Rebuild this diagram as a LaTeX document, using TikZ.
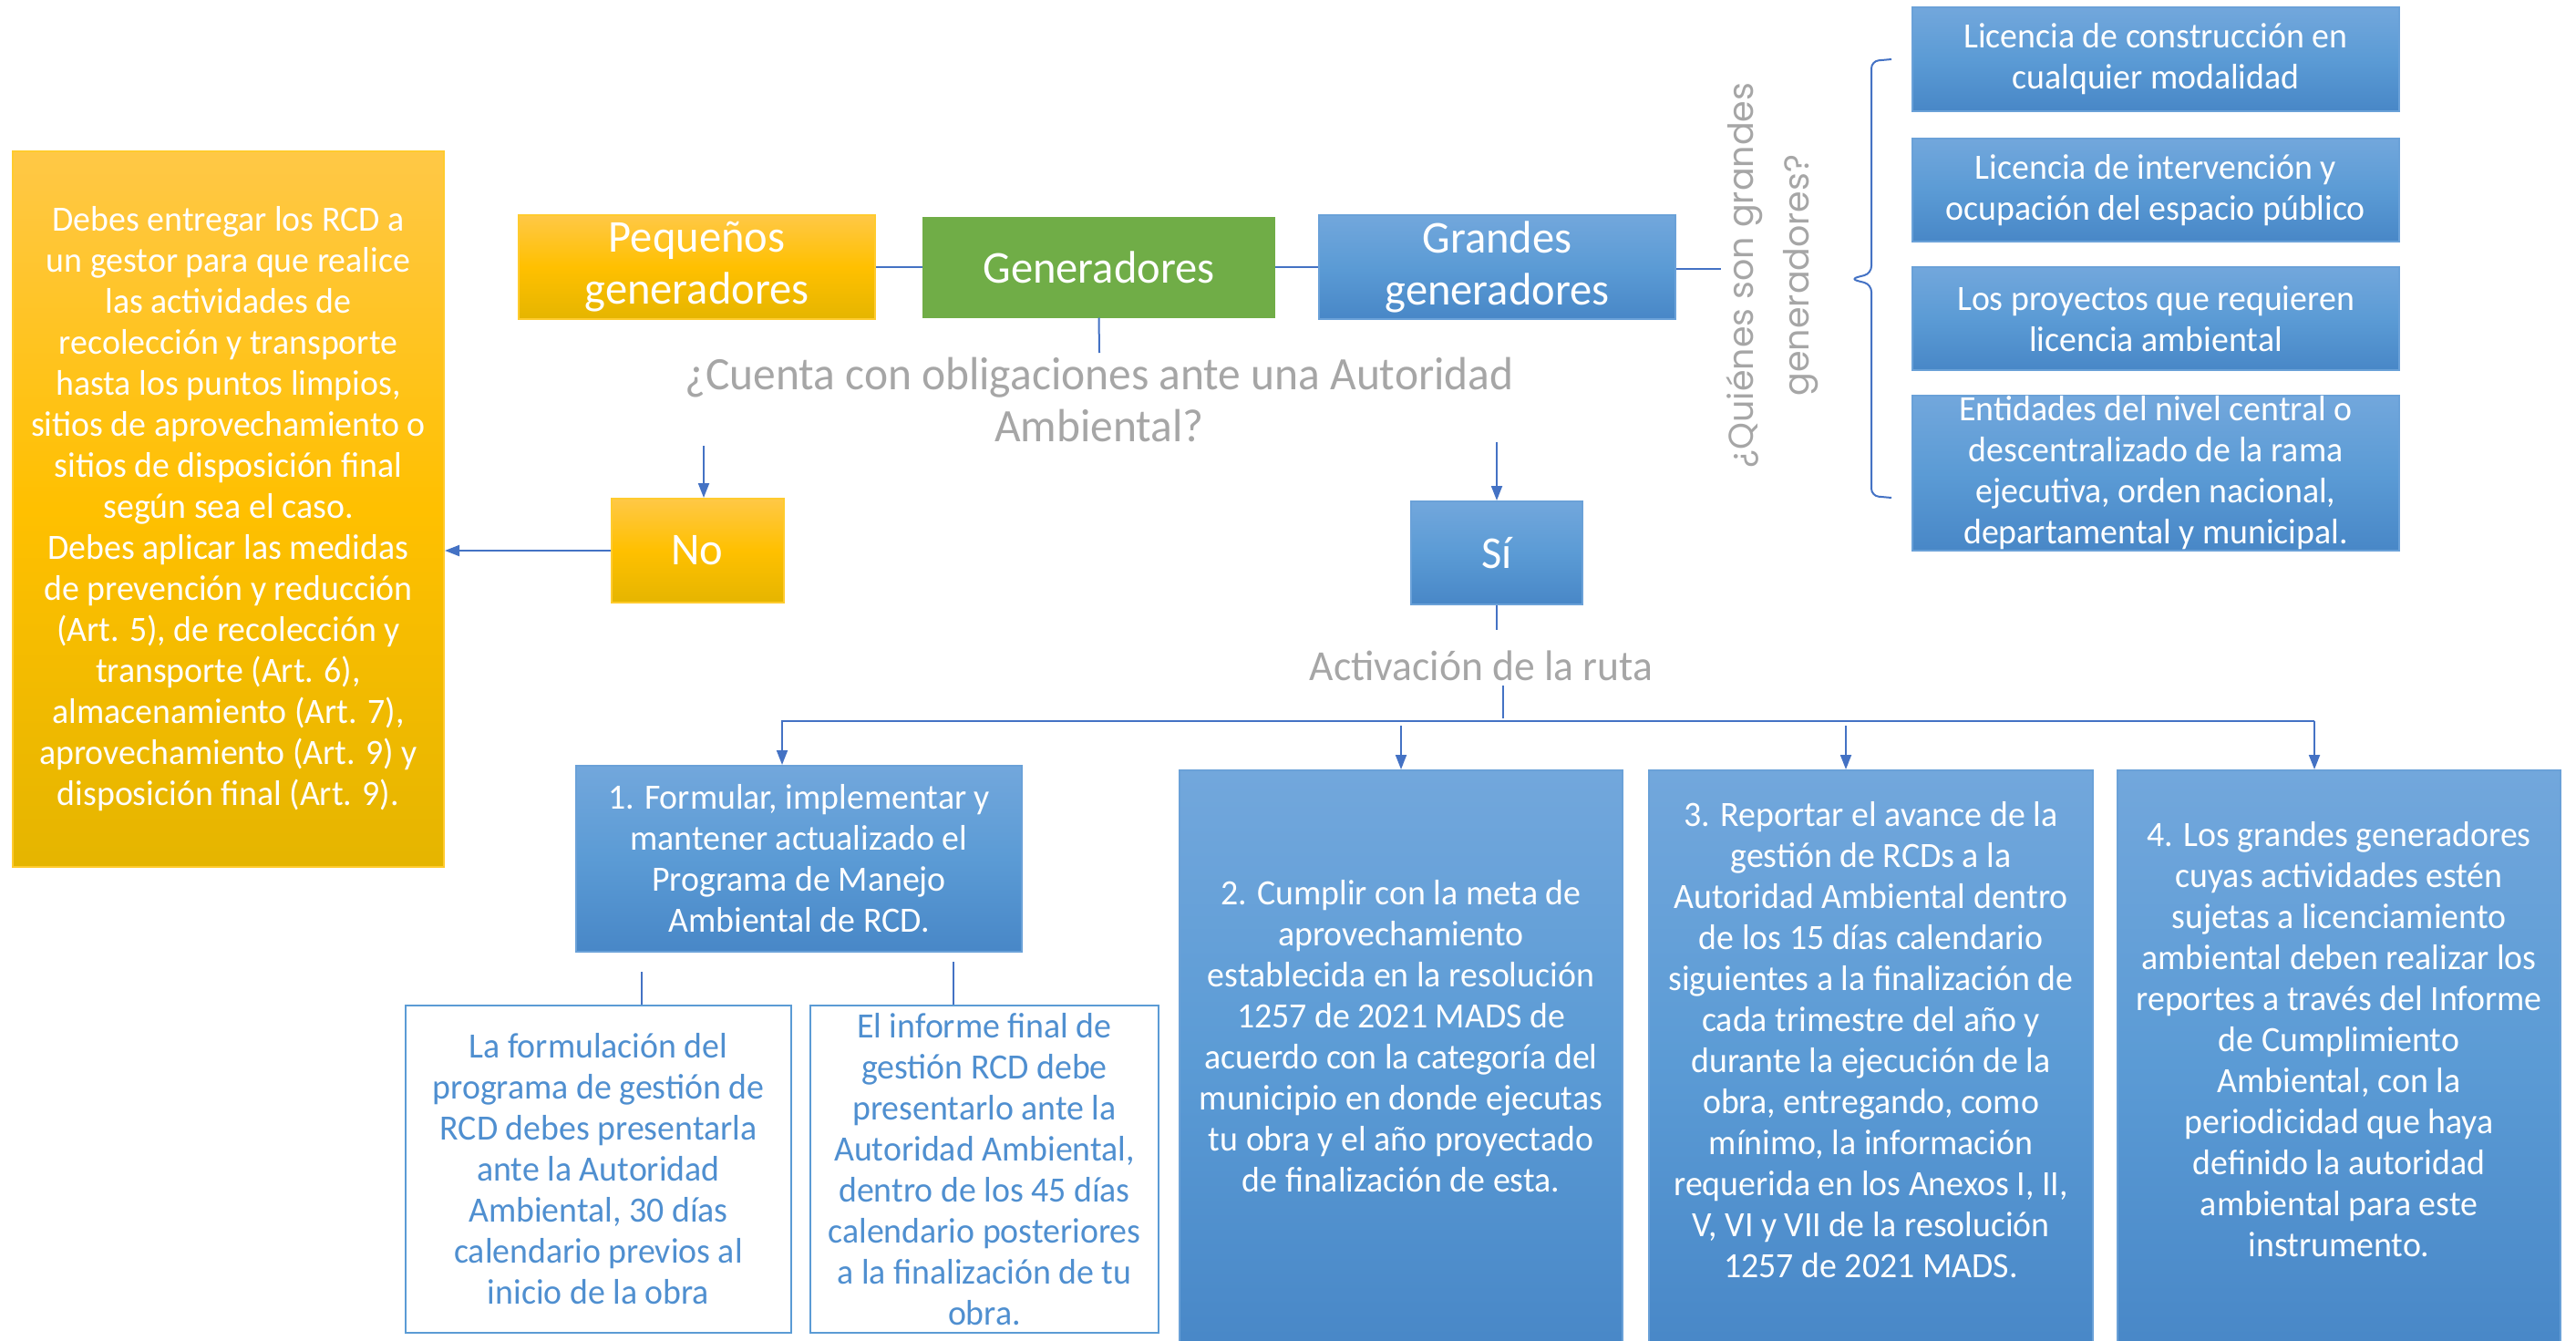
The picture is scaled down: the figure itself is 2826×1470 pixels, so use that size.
\documentclass[tikz,border=0pt]{standalone}
\usepackage{fontspec}
\setmainfont{Carlito}[FakeStretch=0.97]
\newfontfamily\gothic{Poppins}
\usetikzlibrary{arrows.meta,calc}
\definecolor{conn}{HTML}{4472C4}
\definecolor{ytop}{HTML}{FFC846}
\definecolor{ymid}{HTML}{FFC000}
\definecolor{ybot}{HTML}{E5B500}
\definecolor{yborder}{HTML}{FFCB2E}
\definecolor{btop}{HTML}{72A7DC}
\definecolor{bmid}{HTML}{5B9BD5}
\definecolor{bbot}{HTML}{4887C7}
\definecolor{bborder}{HTML}{6AA1D8}
\definecolor{ggreen}{HTML}{70AD47}
\definecolor{qgray}{HTML}{A6A6A6}
\definecolor{subtext}{HTML}{4F8FD0}
\tikzset{
  ybox/.style={rectangle, draw=yborder, line width=2pt, top color=ytop, bottom color=ybot, middle color=ymid, inner sep=0pt, text=white, align=center},
  bbox/.style={rectangle, draw=bborder, line width=2pt, top color=btop, bottom color=bbot, middle color=bmid, inner sep=0pt, text=white, align=center},
  gbox/.style={rectangle, fill=ggreen, draw=ggreen, line width=2pt, inner sep=0pt, text=white, align=center},
  wbox/.style={rectangle, draw=bmid, line width=2pt, fill=white, inner sep=0pt, text=subtext, align=center},
  bigtxt/.style={font=\fontsize{50}{57}\selectfont},
  smalltxt/.style={font=\fontsize{39}{45}\selectfont},
  qtxt/.style={text=qgray, align=center, font=\fontsize{51}{57}\selectfont, inner sep=0pt},
  wtxt/.style={text=white, align=center, inner sep=0pt, font=\fontsize{39}{45}\selectfont},
  conline/.style={draw=conn, line width=2pt},
  conarrow/.style={draw=conn, line width=2pt, -{Triangle[length=16pt,width=12pt]}},
}
\begin{document}
\begin{tikzpicture}[x=1pt,y=-1pt]
\useasboundingbox (0,0) rectangle (2826,1470);

% top row
\node[ybox, bigtxt, minimum width=391, minimum height=114] (peq) at (764.5,293) {Pequeños\\generadores};
\node[gbox, bigtxt, minimum width=385, minimum height=109] (gen) at (1205.5,293) {Generadores};
\node[bbox, bigtxt, minimum width=391, minimum height=114] (gra) at (1642.5,293) {Grandes\\generadores};

\node[qtxt] (q) at (1206,438) {¿Cuenta con obligaciones ante una Autoridad\\Ambiental?};

% left info box
\node[ybox, smalltxt, minimum width=473, minimum height=785] (left) at (250.5,558.5) {Debes entregar los RCD a\\un gestor para que realice\\las actividades de\\recolección y transporte\\hasta los puntos limpios,\\sitios de aprovechamiento o\\sitios de disposición final\\según sea el caso.\\Debes aplicar las medidas\\de prevención y reducción\\(Art. 5), de recolección y\\transporte (Art. 6),\\almacenamiento (Art. 7),\\aprovechamiento (Art. 9) y\\disposición final (Art. 9).};

% No / Si
\node[ybox, bigtxt, minimum width=189, minimum height=114] (no) at (765,604) {No};
\node[bbox, bigtxt, minimum width=188, minimum height=113] (si) at (1642,606.5) {Sí};

\node[qtxt, font=\fontsize{47}{55}\selectfont] (act) at (1625,730) {Activación de la ruta};

% route boxes
\node[bbox, minimum width=489, minimum height=204, smalltxt] (b1) at (876.5,942) {1. Formular, implementar y\\mantener actualizado el\\Programa de Manejo\\Ambiental de RCD.};
\node[bbox, minimum width=486, minimum height=640] (b2) at (1537,1165) {};
\node[bbox, minimum width=487, minimum height=640] (b3) at (2052.5,1165) {};
\node[bbox, minimum width=486, minimum height=640] (b4) at (2566,1165) {};

\node[wtxt] (t2) at (1537,1137) {2. Cumplir con la meta de\\aprovechamiento\\establecida en la resolución\\1257 de 2021 MADS de\\acuerdo con la categoría del\\municipio en donde ejecutas\\tu obra y el año proyectado\\de finalización de esta.};
\node[wtxt] (t3) at (2052.5,1141) {3. Reportar el avance de la\\gestión de RCDs a la\\Autoridad Ambiental dentro\\de los 15 días calendario\\siguientes a la finalización de\\cada trimestre del año y\\durante la ejecución de la\\obra, entregando, como\\mínimo, la información\\requerida en los Anexos I, II,\\V, VI y VII de la resolución\\1257 de 2021 MADS.};
\node[wtxt] (t4) at (2566,1140) {4. Los grandes generadores\\cuyas actividades estén\\sujetas a licenciamiento\\ambiental deben realizar los\\reportes a través del Informe\\de Cumplimiento\\Ambiental, con la\\periodicidad que haya\\definido la autoridad\\ambiental para este\\instrumento.};

% sub boxes
\node[wbox, smalltxt, minimum width=423, minimum height=359] (sa) at (656.5,1282.5) {La formulación del\\programa de gestión de\\RCD debes presentarla\\ante la Autoridad\\Ambiental, 30 días\\calendario previos al\\inicio de la obra};
\node[wbox, smalltxt, minimum width=382, minimum height=359] (sb) at (1080,1282.5) {El informe final de\\gestión RCD debe\\presentarlo ante la\\Autoridad Ambiental,\\dentro de los 45 días\\calendario posteriores\\a la finalización de tu\\obra.};

% right boxes
\node[bbox, smalltxt, minimum width=534, minimum height=114] (r1) at (2365,65) {Licencia de construcción en\\cualquier modalidad};
\node[bbox, smalltxt, minimum width=534, minimum height=113] (r2) at (2365,208.5) {Licencia de intervención y\\ocupación del espacio público};
\node[bbox, smalltxt, minimum width=534, minimum height=113] (r3) at (2365,349.5) {Los proyectos que requieren\\licencia ambiental};
\node[bbox, smalltxt, minimum width=534, minimum height=170] (r4) at (2365,519) {Entidades del nivel central o\\descentralizado de la rama\\ejecutiva, orden nacional,\\departamental y municipal.};

\node[text=qgray, align=center, inner sep=0pt, rotate=90, font=\gothic\fontsize{38}{61}\selectfont] (quien) at (1944,302) {¿Quiénes son grandes\\generadores?};

% coordinates for free ends
\coordinate (gq) at (1206,387);
\coordinate (grb) at (1888,295);
\coordinate (noin) at (772,489);
\coordinate (siin) at (1642,485);
\coordinate (siout) at (1642,691);
\coordinate (acttop) at (1649,752);
\coordinate (actbot) at (1649,788);
\coordinate (hl) at (858,791);
\coordinate (hr) at (2539,791);
\coordinate (a2) at (1537,796);
\coordinate (a3) at (2025,796);
\coordinate (sla) at (704,1066);
\coordinate (slb) at (1046,1055);

% connectors
\draw[conline] (peq.east) -- (gen.west);
\draw[conline] (gen.east) -- (gra.west);
\draw[conline] (gen.south) -- (gq);
\draw[conline] (gra.east |- grb) -- (grb);
\draw[conarrow] (noin) -- (noin |- no.north);
\draw[conarrow] (no.west) -- (left.east |- no.west);
\draw[conarrow] (siin) -- (si.north);
\draw[conline] (si.south) -- (siout);
\draw[conline] (acttop) -- (actbot);
\draw[conarrow] (hr) -- (hl) -- (hl |- b1.north);
\draw[conarrow] (hr) -- (hr |- b4.north);
\draw[conarrow] (a2) -- (b2.north);
\draw[conarrow] (a3) -- (a3 |- b3.north);
\draw[draw=conn, line width=1.5pt] (sla) -- (sla |- sa.north);
\draw[draw=conn, line width=1.5pt] (slb) -- (slb |- sb.north);

% brace
\draw[draw=conn, line width=2pt, rounded corners=8pt] (2075,65) -- (2053,67) -- (2053,300) -- (2030,306) -- (2053,312) -- (2053,544) -- (2075,546);
\end{tikzpicture}
\end{document}
